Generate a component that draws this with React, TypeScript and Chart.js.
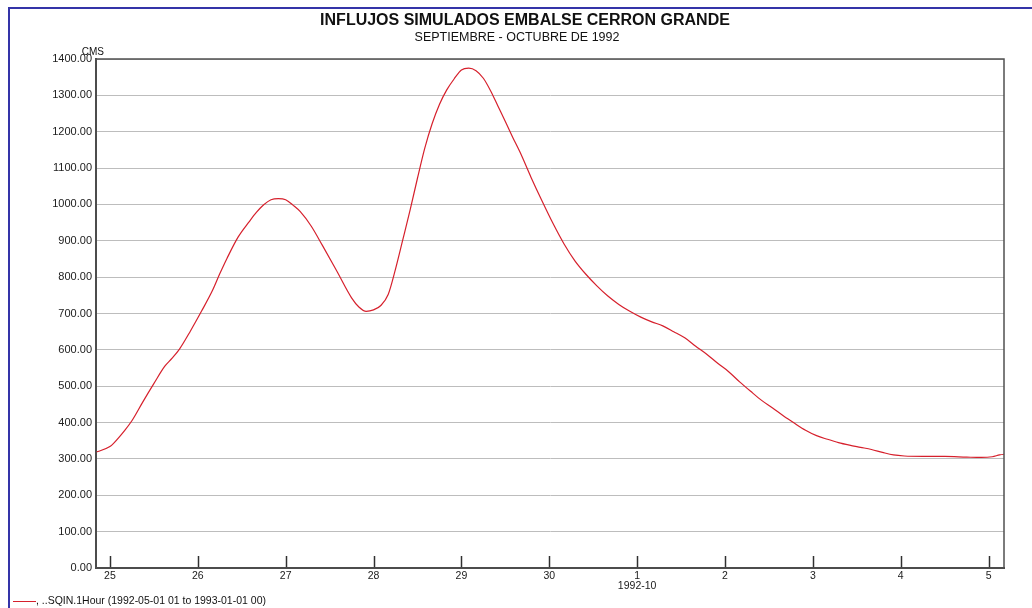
import React, { useEffect, useRef } from "react";
import Chart from "chart.js/auto";

// Hours since 1992-09-25 00:00
const HOURS = [
  -4, -3, 0, 1, 4, 6, 9, 12, 15, 17, 19, 22, 25, 28, 30, 32, 35, 38, 40, 42, 44, 46, 48, 50, 52, 55, 58, 62,
  66, 68, 70, 72, 74, 76, 78, 80, 82, 84, 86, 88, 90, 92, 94, 96, 98, 100, 102, 104, 106, 108, 110, 112, 115,
  118, 121, 124, 127, 130, 133, 136, 139, 142, 145, 148, 151, 154, 157, 160, 163, 166, 169, 172, 175, 178,
  181, 184, 187, 190, 193, 196, 199, 202, 205, 208, 211, 214, 217, 222, 228, 234, 238, 241, 243, 245,
];
const CMS = [
  319, 321, 334, 343, 378, 405, 457, 507, 555, 577, 602, 652, 706, 763, 809, 852, 910, 952, 978, 999, 1013,
  1016, 1013, 998, 980, 940, 888, 816, 743, 718, 706, 710, 722, 752, 822, 903, 985, 1072, 1155, 1222, 1275,
  1315, 1345, 1370, 1375, 1368, 1347, 1312, 1270, 1228, 1185, 1144, 1075, 1010, 948, 892, 845, 808, 776, 748,
  725, 706, 690, 677, 666, 650, 633, 610, 588, 563, 540, 512, 486, 461, 440, 418, 398, 379, 364, 354, 345,
  338, 332, 326, 318, 311, 308, 307, 307, 305, 304, 306, 311, 314,
];
const DAY_TICKS = [0, 24, 48, 72, 96, 120, 144, 168, 192, 216, 240];
const DAY_LABELS: (string | string[])[] = ["25", "26", "27", "28", "29", "30", ["1", "1992-10"], "2", "3", "4", "5"];

const TITLE = "INFLUJOS SIMULADOS EMBALSE CERRON GRANDE";
const SUBTITLE = "SEPTIEMBRE - OCTUBRE DE 1992";
const Y_UNIT = "CMS";
const SERIES_LABEL = ", ..SQIN.1Hour (1992-05-01 01 to 1993-01-01 00)";

const FONT = '"Liberation Sans", Arial, sans-serif';
const LINE_COLOR = "#d6202c";

export default function App() {
  const ref = useRef<HTMLCanvasElement | null>(null);

  useEffect(() => {
    if (!ref.current) return;
    const decor = {
      id: "decor",
      afterDraw(chart: any) {
        const { ctx, chartArea } = chart;
        const { left, top, right, bottom } = chartArea;
        const xs = chart.scales.x;
        ctx.save();
        // inner tick marks
        ctx.strokeStyle = "#303030";
        ctx.lineWidth = 1.5;
        DAY_TICKS.forEach((t) => {
          const px = Math.round(xs.getPixelForValue(t)) + 0.5;
          ctx.beginPath();
          ctx.moveTo(px, bottom);
          ctx.lineTo(px, bottom - 12);
          ctx.stroke();
        });
        // plot frame
        ctx.strokeStyle = "#505050";
        ctx.lineWidth = 1.5;
        ctx.strokeRect(left, top, right - left, bottom - top);
        // titles
        ctx.fillStyle = "#111";
        ctx.textAlign = "center";
        ctx.textBaseline = "middle";
        ctx.font = `bold 16px ${FONT}`;
        ctx.fillText(TITLE, 525, 21);
        ctx.font = `12.5px ${FONT}`;
        ctx.fillText(SUBTITLE, 517, 38);
        // unit
        ctx.font = `10px ${FONT}`;
        ctx.textAlign = "right";
        ctx.fillText(Y_UNIT, 104, 52);
        // legend
        ctx.strokeStyle = LINE_COLOR;
        ctx.lineWidth = 1;
        ctx.beginPath();
        ctx.moveTo(13, 601.5);
        ctx.lineTo(36, 601.5);
        ctx.stroke();
        ctx.textAlign = "left";
        ctx.font = `10.5px ${FONT}`;
        ctx.fillStyle = "#111";
        ctx.fillText(SERIES_LABEL, 36, 601);
        ctx.restore();
      },
    };

    const chart = new Chart(ref.current, {
      type: "line",
      data: {
        datasets: [
          {
            label: SERIES_LABEL,
            data: HOURS.map((h, i) => ({ x: h, y: CMS[i] })),
            borderColor: LINE_COLOR,
            borderWidth: 1.2,
            pointRadius: 0,
            cubicInterpolationMode: "monotone",
            fill: false,
          },
        ],
      },
      options: {
        animation: false,
        responsive: false,
        maintainAspectRatio: false,
        layout: { padding: { left: 10, right: 28, top: 59, bottom: 0 } },
        plugins: {
          legend: { display: false },
          title: { display: false },
          tooltip: { enabled: false },
        },
        scales: {
          x: {
            type: "linear",
            min: -3.8,
            max: 244.2,
            afterBuildTicks: (scale: any) => {
              scale.ticks = DAY_TICKS.map((v) => ({ value: v }));
            },
            afterFit: (scale: any) => {
              scale.height = 40;
            },
            grid: { display: false, drawTicks: false },
            border: { display: true, color: "#404040", width: 2 },
            ticks: {
              autoSkip: false,
              maxRotation: 0,
              padding: 3,
              color: "#202020",
              font: { family: FONT, size: 10.5, lineHeight: 0.95 },
              callback: (_v: any, i: number) => DAY_LABELS[i],
            },
          },
          y: {
            min: 0,
            max: 1400,
            afterFit: (scale: any) => {
              scale.width = 86;
            },
            grid: { color: "#bdbdbd", lineWidth: 1, drawTicks: false },
            border: { display: true, color: "#404040", width: 2 },
            ticks: {
              stepSize: 100,
              padding: 4,
              color: "#202020",
              font: { family: FONT, size: 11 },
              callback: (v: any) => Number(v).toFixed(2),
            },
          },
        },
      },
      plugins: [decor],
    });
    return () => chart.destroy();
  }, []);

  return (
    <div style={{ position: "fixed", left: 0, top: 0, width: 1032, height: 608, overflow: "hidden", background: "#fff" }}>
      <div
        style={{
          position: "absolute",
          left: 7.5,
          top: 6.5,
          width: 1100,
          height: 700,
          borderTop: "2px solid #3434a8",
          borderLeft: "2px solid #3434a8",
        }}
      />
      <canvas ref={ref} width={1032} height={608} style={{ position: "absolute", left: 0, top: 0 }} />
    </div>
  );
}
